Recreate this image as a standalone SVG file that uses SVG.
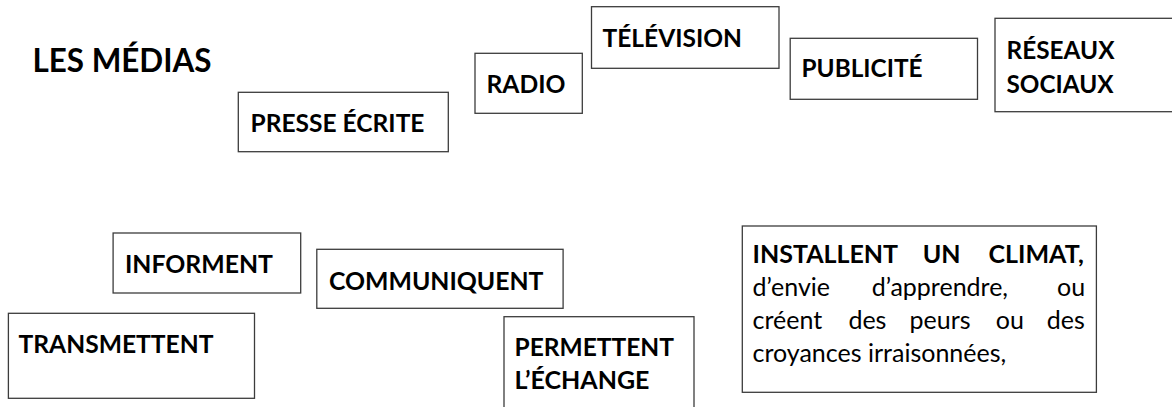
<svg xmlns="http://www.w3.org/2000/svg" width="1172" height="407" viewBox="0 0 1172 407">
<style>
.box{fill:#fff;stroke:#3c3c3c;stroke-width:1.3}
.t{font-family:Lato,"Liberation Sans",sans-serif;font-weight:700;font-size:25px;fill:#000}
.r{font-family:Lato,"Liberation Sans",sans-serif;font-weight:400;font-size:25px;fill:#000}
.title{font-family:Lato,"Liberation Sans",sans-serif;font-weight:700;font-size:32px;fill:#000}
</style>
<rect width="1172" height="407" fill="#fff"/>
<g id="title"><text class="title" x="32.5" y="71.7" textLength="179" lengthAdjust="spacingAndGlyphs">LES MÉDIAS</text></g>
<g id="presse"><rect class="box" x="238.3" y="92.3" width="210" height="59.4"/><text class="t" x="250.5" y="131.7" textLength="174" lengthAdjust="spacingAndGlyphs">PRESSE ÉCRITE</text></g>
<g id="radio"><rect class="box" x="475" y="53.3" width="107.3" height="60"/><text class="t" x="486.5" y="93.3" textLength="79" lengthAdjust="spacingAndGlyphs">RADIO</text></g>
<g id="television"><rect class="box" x="591.5" y="6.7" width="187.5" height="61.6"/><text class="t" x="602.5" y="46.7" textLength="139.5" lengthAdjust="spacingAndGlyphs">TÉLÉVISION</text></g>
<g id="publicite"><rect class="box" x="790.2" y="38.3" width="187.3" height="61"/><text class="t" x="801.5" y="77" textLength="121" lengthAdjust="spacingAndGlyphs">PUBLICITÉ</text></g>
<g id="reseaux"><rect class="box" x="995" y="18.3" width="200" height="93.4"/><text class="t" x="1006.5" y="59" textLength="108" lengthAdjust="spacingAndGlyphs">RÉSEAUX</text><text class="t" x="1006.5" y="93" textLength="107" lengthAdjust="spacingAndGlyphs">SOCIAUX</text></g>
<g id="informent"><rect class="box" x="113.1" y="233" width="187.6" height="60"/><text class="t" x="125" y="273.3" textLength="148" lengthAdjust="spacingAndGlyphs">INFORMENT</text></g>
<g id="communiquent"><rect class="box" x="316.8" y="249.3" width="246.3" height="59"/><text class="t" x="329" y="290" textLength="214.5" lengthAdjust="spacingAndGlyphs">COMMUNIQUENT</text></g>
<g id="transmettent"><rect class="box" x="8.4" y="313.3" width="246.1" height="85"/><text class="t" x="18.5" y="353.3" textLength="195" lengthAdjust="spacingAndGlyphs">TRANSMETTENT</text></g>
<g id="permettent"><rect class="box" x="504" y="316.7" width="190" height="100"/><text class="t" x="514.5" y="356" textLength="159.5" lengthAdjust="spacingAndGlyphs">PERMETTENT</text><text class="t" x="514.5" y="389" textLength="135" lengthAdjust="spacingAndGlyphs">L’ÉCHANGE</text></g>
<g id="installent"><rect class="box" x="742.3" y="226" width="354.1" height="166.3"/>
<text class="t" y="263"><tspan x="752.5">INSTALLENT</tspan><tspan x="922.8">UN</tspan><tspan x="988.5">CLIMAT,</tspan></text>
<text class="r" y="296"><tspan x="752.5">d’envie</tspan><tspan x="871.7">d’apprendre,</tspan><tspan x="1057">ou</tspan></text>
<text class="r" y="329"><tspan x="752.5">créent</tspan><tspan x="848.4">des</tspan><tspan x="909.6">peurs</tspan><tspan x="995.8">ou</tspan><tspan x="1046.7">des</tspan></text>
<text class="r" x="752.5" y="362">croyances irraisonnées,</text>
</g>
</svg>
